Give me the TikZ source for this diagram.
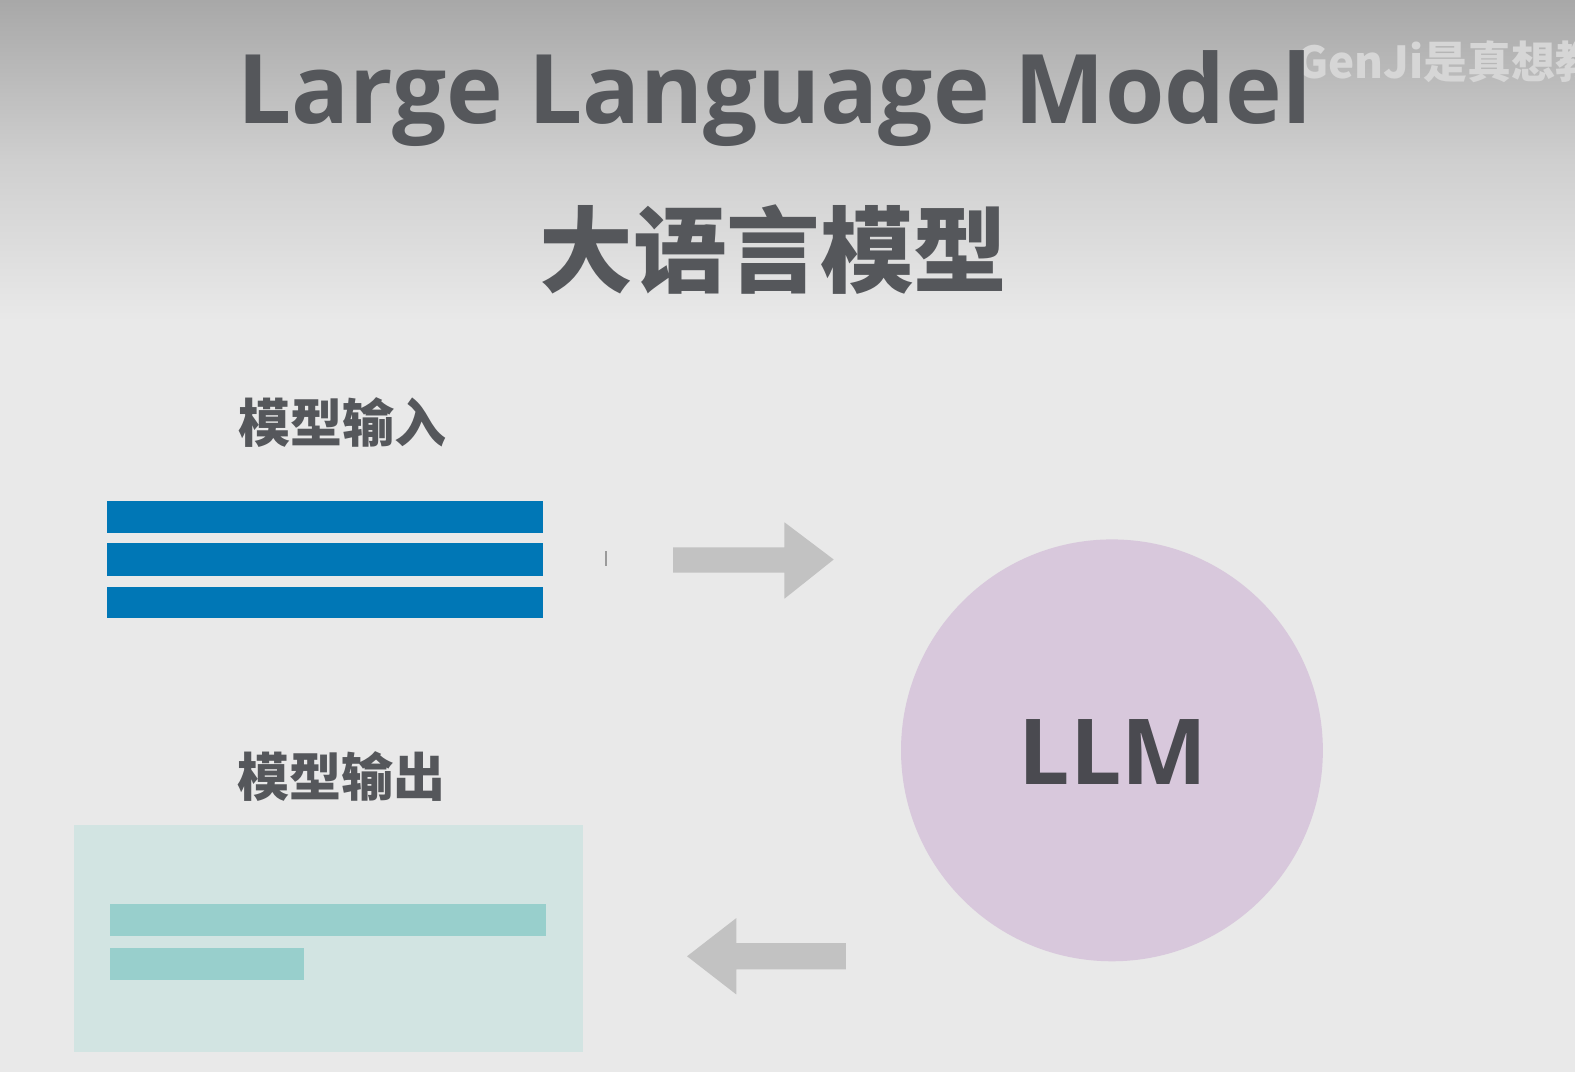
\documentclass[tikz,border=0pt]{standalone}
\usepackage{fontspec}
\usepackage{graphicx}
\setmainfont{Open Sans}
\newfontfamily\cjk{Noto Sans CJK SC}
\definecolor{bgtop}{HTML}{A8A8A8}
\definecolor{bgbot}{HTML}{E9E9E9}
\definecolor{titlec}{HTML}{55575B}
\definecolor{blueb}{HTML}{0077B6}
\definecolor{arrowc}{HTML}{C2C2C2}
\definecolor{circc}{HTML}{D8C8DC}
\definecolor{outbox}{HTML}{D2E4E2}
\definecolor{outbar}{HTML}{98CFCC}
\definecolor{llmc}{HTML}{4A4A50}
\definecolor{wmc}{HTML}{D6D6D6}
\tikzset{
  title/.style={text=titlec, inner sep=0pt, font=\bfseries},
  label/.style={text=titlec, inner sep=0pt, font=\cjk\bfseries\fontsize{26pt}{30pt}\selectfont},
  inbar/.style={fill=blueb, draw=none},
  obar/.style={fill=outbar, draw=none},
  blockarrow/.style={fill=arrowc, draw=none},
}
\begin{document}
\begin{tikzpicture}[x=0.50223pt, y=-0.50223pt]
\useasboundingbox (0,0) rectangle (1568,1067.3);
\clip (0,0) rectangle (1568,1067.3);
% background
\fill[bgbot] (0,0) rectangle (1568,1067.3);
\shade[top color=bgtop, bottom color=bgbot, middle color={rgb,255:red,207;green,207;blue,207}] (0,0) rectangle (1568,320);
% watermark top right
\node[anchor=base west, inner sep=0pt, text=wmc, font=\cjk\bfseries\fontsize{22pt}{26pt}\selectfont] (wm) at (1290,78) {GenJi是真想教};
% titles
\node[title, anchor=base west] (t1) at (236,123) {\resizebox{537pt}{!}{Large Language Model}};
\node[title, font=\cjk\bfseries\fontsize{46.8pt}{50pt}\selectfont] (t2) at (770,248) {大语言模型};
% input
\node[label] (lin) at (341,421) {模型输入};
\fill[inbar] (107,499) rectangle (541,531);
\fill[inbar] (107,541) rectangle (541,573);
\fill[inbar] (107,584) rectangle (541,615);
\draw[arrowc!80!black, line width=1pt] (603,549) -- (603,563);
% right arrow
\fill[blockarrow] (670,545) -- (781,545) -- (781,520) -- (830,557) -- (781,596) -- (781,570) -- (670,570) -- cycle;
% circle
\node[circle, fill=circc, minimum size=420*0.50223pt, inner sep=0pt] (llm) at (1107,747) {};
\node[text=llmc, inner sep=0pt, font=\bfseries\fontsize{45.5pt}{50pt}\selectfont] (llmt) at (1108,749) {LLM};
% output
\node[label] (lout) at (340,773) {模型输出};
\fill[outbox] (74,821) rectangle (580,1047);
\fill[obar] (110,900) rectangle (544,932);
\fill[obar] (110,944) rectangle (303,976);
% left arrow
\fill[blockarrow] (842,939) -- (733,939) -- (733,914) -- (684,952) -- (733,990) -- (733,965) -- (842,965) -- cycle;
\end{tikzpicture}
\end{document}
